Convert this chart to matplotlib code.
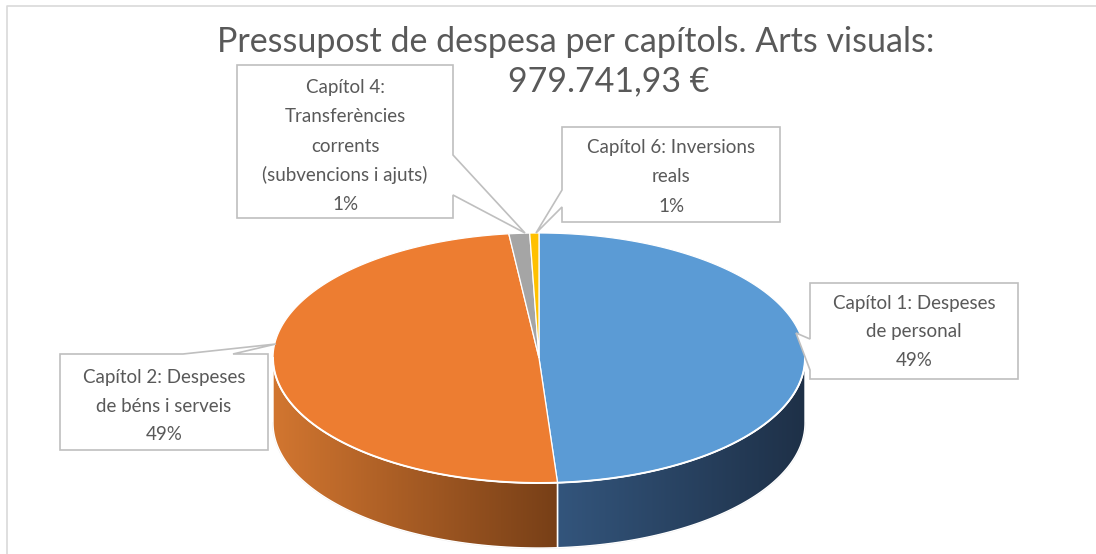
import numpy as np
import matplotlib.pyplot as plt
from matplotlib.patches import Polygon
from matplotlib.colors import LinearSegmentedColormap

plt.rcParams['font.family'] = ['Lato', 'DejaVu Sans']

title_line1 = "Pressupost de despesa per capítols. Arts visuals:"
title_line2 = "979.741,93 €"

chapters = ["Capítol 1", "Capítol 2", "Capítol 4", "Capítol 6"]
label_text = [
    ["Capítol 1: Despeses", "de personal"],
    ["Capítol 2: Despeses", "de béns i serveis"],
    ["Capítol 4:", "Transferències", "corrents", "(subvencions i ajuts)"],
    ["Capítol 6: Inversions", "reals"],
]
amounts = [479000.00, 483000.00, 12300.00, 5441.93]
top_colors = ['#5b9bd5', '#ed7d31', '#a5a5a5', '#ffc000']
side_colors = [('#33557c', '#1e3047'), ('#d27630', '#773f17'),
               ('#7c7c7c', '#5a5a5a'), ('#bf9000', '#8a6800')]

# layout (pixels)
cx, cy, rx, ry, depth = 539, 358, 266, 125, 65
text_col = '#595959'
line_col = '#bfbfbf'

# callout boxes: (x0, y0, x1, y1), wedge points, first text line y
callouts = [
    ((810, 283, 1018, 379), [(810, 379), (810, 370), (796, 333), (810, 339)], 303),
    ((60, 354, 268, 450), [(183, 354), (276, 344), (233, 354)], 377),
    ((237, 65, 453, 218), [(453, 155), (525, 233), (453, 195)], 88),
    ((562, 127, 780, 222), [(562, 207), (536, 233), (562, 190)], 148),
]


def ell(phi, dy=0.0):
    r = np.radians(phi)
    return cx + rx * np.sin(r), cy - ry * np.cos(r) + dy


fig = plt.figure(figsize=(10.96, 5.54), dpi=100)
ax = fig.add_axes([0, 0, 1, 1])
ax.axis('off')

# chart border
ax.plot([7, 7, 1100], [560, 6, 6], color='#d9d9d9', lw=1.2, zorder=0)

total = sum(amounts)
fracs = [a / total for a in amounts]
edges = np.concatenate([[0], np.cumsum(fracs) * 360])

# sides (front half only)
for i in range(len(amounts)):
    lo, hi = max(edges[i], 90), min(edges[i + 1], 270)
    if lo >= hi:
        continue
    ph = np.linspace(lo, hi, 120)
    xt, yt = ell(ph)
    xb, yb = ell(ph[::-1], depth)
    pts = np.column_stack([np.concatenate([xt, xb]), np.concatenate([yt, yb])])
    poly = Polygon(pts, closed=True, facecolor='none', edgecolor='white', lw=1.0, zorder=2)
    ax.add_patch(poly)
    cmap = LinearSegmentedColormap.from_list('s%d' % i, side_colors[i])
    grad = np.linspace(0, 1, 256).reshape(1, -1)
    im = ax.imshow(grad, cmap=cmap, aspect='auto', zorder=1,
                   extent=(pts[:, 0].min(), pts[:, 0].max(), pts[:, 1].max(), pts[:, 1].min()))
    im.set_clip_path(poly)

# top face
for i in range(len(amounts)):
    ph = np.linspace(edges[i], edges[i + 1], max(int((edges[i + 1] - edges[i]) * 2), 4))
    xt, yt = ell(ph)
    pts = np.column_stack([np.concatenate([[cx], xt]), np.concatenate([[cy], yt])])
    ax.add_patch(Polygon(pts, closed=True, facecolor=top_colors[i], edgecolor='white',
                         lw=0.9, zorder=3))

# front rim highlight
ph = np.linspace(90, 270, 200)
xt, yt = ell(ph)
ax.plot(xt, yt, color='white', lw=1.4, zorder=4)
xb, yb = ell(ph, depth)
ax.plot(xb, yb, color='#e6e6e6', lw=1.2, zorder=0.5)

# callouts
for i, (box, wedge, ty) in enumerate(callouts):
    x0, y0, x1, y1 = box
    if i == 0:
        pts = [(x0, y0), (x1, y0), (x1, y1)] + wedge
    elif i == 1:
        pts = [(x0, y0)] + wedge + [(x1, y0), (x1, y1), (x0, y1)]
    elif i == 2:
        pts = [(x0, y0), (x1, y0)] + wedge + [(x1, y1), (x0, y1)]
    else:
        pts = [(x0, y0), (x1, y0), (x1, y1), (x0, y1)] + wedge
    ax.add_patch(Polygon(pts, closed=True, facecolor='white', edgecolor=line_col,
                         lw=1.2, zorder=5))
    lines = label_text[i] + ['%d%%' % round(fracs[i] * 100)]
    xc = (x0 + x1) / 2
    for k, s in enumerate(lines):
        ax.text(xc, ty + k * 29, s, ha='center', va='center', fontsize=13.5,
                color=text_col, zorder=6)

ax.text(576, 42, title_line1, ha='center', va='center', fontsize=24.5, color=text_col)
ax.text(609, 81, title_line2, ha='center', va='center', fontsize=24.5, color=text_col)

ax.set_xlim(0, 1096)
ax.set_ylim(554, 0)
fig.savefig('out.png', dpi=100)
